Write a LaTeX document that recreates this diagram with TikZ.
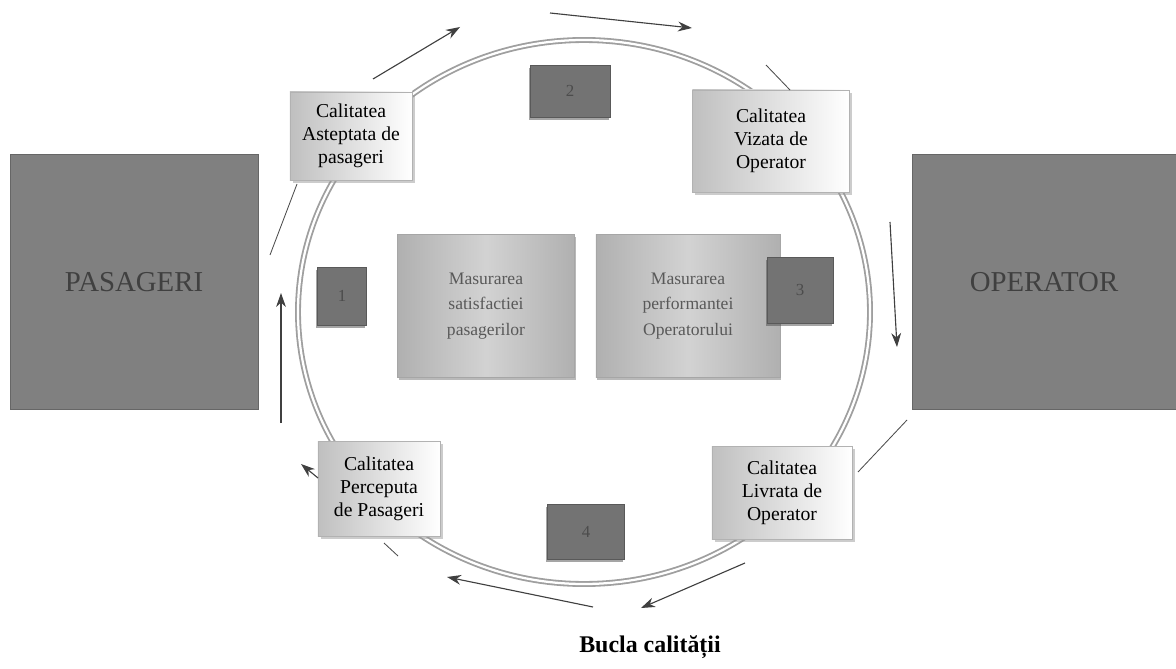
\documentclass[tikz,border=0pt]{standalone}
\usepackage{fontspec}
\setmainfont{Liberation Serif}
\usetikzlibrary{arrows,arrows.meta,shadows,calc}

\begin{document}
\begin{tikzpicture}[x=0.025cm,y=-0.025cm]
		\tikzset{
		    actor/.style={rectangle,fill=black!50,draw=black!60,minimum height=6.375cm,text=black!75,font=\fontsize{20.5}{24}\selectfont},
		    quality/.style={rectangle,left color=gray!50,right color=white,draw=gray!60,align=center,text=black,
		        drop shadow={shadow xshift=2pt,shadow yshift=-2pt,fill=gray!80},font=\fontsize{14}{16.5}\selectfont},
		    measure/.style={rectangle,left color=gray!62,right color=gray!62,middle color=gray!35,draw=gray!70,align=center,text=black!65,
		        minimum height=3.575cm,drop shadow={shadow xshift=1pt,shadow yshift=-2pt,fill=black!55},font=\fontsize{12.5}{18}\selectfont},
		    numbox/.style={rectangle,fill=black!55,draw=black!65,text=black!70,font=\fontsize{12}{14}\selectfont,
		        drop shadow={shadow xshift=-1pt,shadow yshift=-2pt,fill=black!70}},
		    edge/.style={->,> = {Stealth[length=10pt,width=7pt]}, thick, black!75},
		    link/.style={semithick, black!70}
		}

		\useasboundingbox (0,0) rectangle (1176,669);

		% loop
		\draw[gray!75, line width=1.3pt, double=white, double distance=1.6pt] (584,312) ellipse [x radius=286, y radius=272];

		% vertices
		\node[actor,minimum width=6.2cm] (pas) at (134,282) {PASAGERI};
		\node[actor,minimum width=6.6cm] (op) at (1044,282) {OPERATOR};

		\node[quality,minimum width=3.05cm,minimum height=2.2cm] (asteptata) at (351,136) {Calitatea\\Asteptata de\\pasageri};
		\node[quality,minimum width=3.925cm,minimum height=2.55cm] (vizata) at (771,141) {Calitatea\\Vizata de\\Operator};
		\node[quality,minimum width=3.05cm,minimum height=2.375cm] (perceputa) at (379,489) {Calitatea\\Perceputa\\de Pasageri};
		\node[quality,minimum width=3.5cm,minimum height=2.325cm] (livrata) at (782,493) {Calitatea\\Livrata de\\Operator};

		\node[measure,minimum width=4.425cm] (satisf) at (486,306) {Masurarea\\satisfactiei\\pasagerilor};
		\node[measure,minimum width=4.6cm] (perf) at (688,306) {Masurarea\\performantei\\Operatorului};

		\node[numbox,minimum width=1.225cm,minimum height=1.45cm] (n1) at (342,296) {1};
		\node[numbox,minimum width=2cm,minimum height=1.3cm] (n2) at (570,91) {2};
		\node[numbox,minimum width=1.65cm,minimum height=1.65cm] (n3) at (800,290) {3};
		\node[numbox,minimum width=1.925cm,minimum height=1.375cm] (n4) at (586,532) {4};

		\node[font=\bfseries\fontsize{17}{20}\selectfont] (title) at (650,647) {Bucla calității};

		% ends of the cycle arrows
		\coordinate (a1) at (373,79);  \coordinate (b1) at (460,27);
		\coordinate (a2) at (550,13);  \coordinate (b2) at (692,28);
		\coordinate (a3) at (766,65);  \coordinate (b3) at (790,90);
		\coordinate (a4) at (890,222); \coordinate (b4) at (897,347);
		\coordinate (a5) at (907,420); \coordinate (b5) at (858,472);
		\coordinate (a6) at (745,563); \coordinate (b6) at (641,608);
		\coordinate (a7) at (593,607); \coordinate (b7) at (447,577);
		\coordinate (a8) at (398,556); \coordinate (b8) at (384,543);
		\coordinate (a9) at (318,478); \coordinate (b9) at (301,464);
		\coordinate (a10) at (281,423); \coordinate (b10) at (281,293);
		\coordinate (a11) at (270,255); \coordinate (b11) at (297,184);

		%edges
		\draw[edge] (a1) -- (b1);
		\draw[edge] (a2) -- (b2);
		\draw[link] (a3) -- (b3);
		\draw[edge] (a4) -- (b4);
		\draw[link] (a5) -- (b5);
		\draw[edge] (a6) -- (b6);
		\draw[edge] (a7) -- (b7);
		\draw[link] (a8) -- (b8);
		\draw[edge] (a9) -- (b9);
		\draw[edge] (a10) -- (b10);
		\draw[link] (a11) -- (b11);

	\end{tikzpicture}
\end{document}
